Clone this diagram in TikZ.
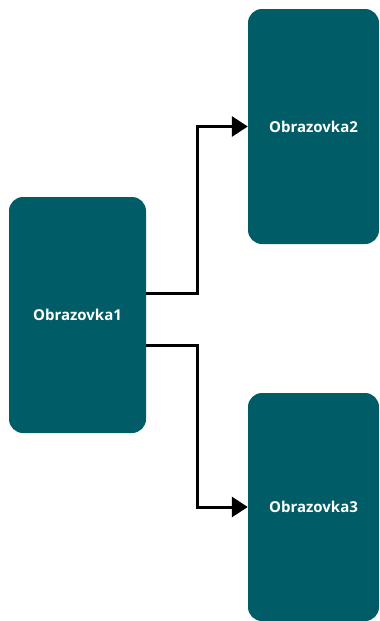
\documentclass[tikz,border=0pt]{standalone}
\usepackage{fontspec}
\setsansfont{Open Sans}
\usepackage{tikz}
\usetikzlibrary{arrows.meta, positioning}
\definecolor{screenteal}{RGB}{0,92,102}

\begin{document}
\begin{tikzpicture}[x=1pt,y=-1pt,
        screen/.style={fill=screenteal, rounded corners=14pt, text=white,
            font=\sffamily\bfseries\fontsize{15}{18}\selectfont,
            minimum width=137pt, minimum height=236pt, inner sep=0pt},
        link/.style={line width=3pt, miter limit=10, -{Triangle[length=16pt,width=20pt]}}]
        \useasboundingbox (0,0) rectangle (380,621);
        \node[screen]   (o1)    at (77.5,315)        {Obrazovka1};
        \node[screen, minimum width=131pt, minimum height=235pt]   (o2)    at (313.5,126.5)   {Obrazovka2};
        \node[screen, minimum width=131pt, minimum height=228pt]   (o3)    at (313.5,507)     {Obrazovka3};

        \draw[link] ([yshift=22pt]o1.east) -- ++(51,0) |- (o2.west);
        \draw[link] ([yshift=-30pt]o1.east) -- ++(51,0) |- (o3.west);
    \end{tikzpicture}
\end{document}
